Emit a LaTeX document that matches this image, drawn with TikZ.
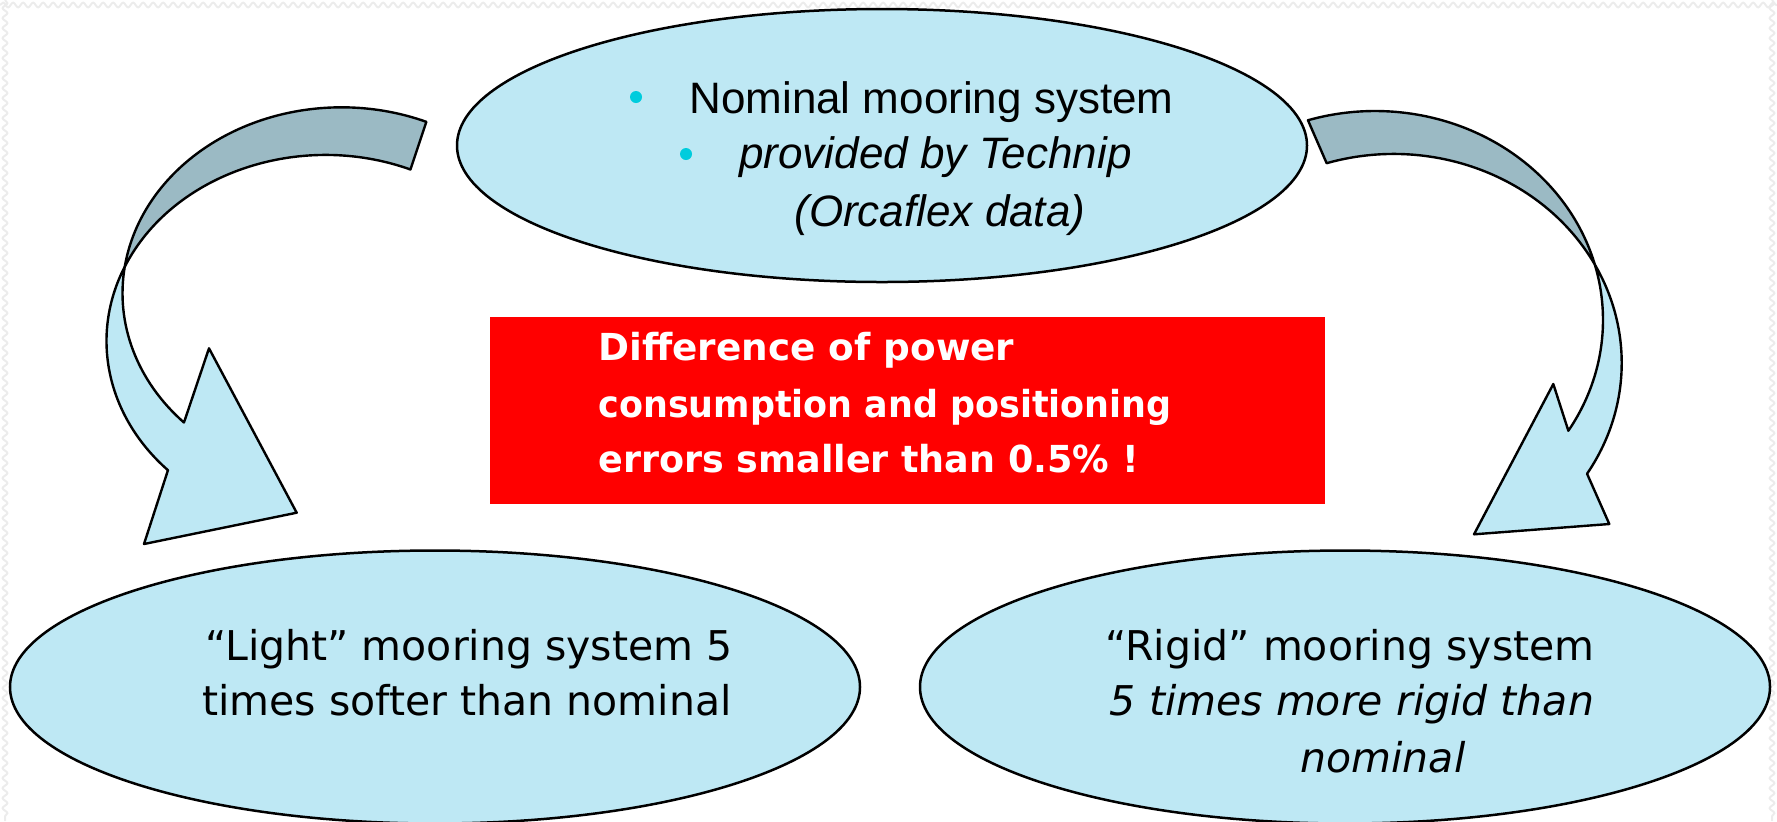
\documentclass[tikz,border=0pt]{standalone}
\usepackage{fontspec}
\usepackage{graphicx}
\setmainfont{Liberation Sans}
\newfontfamily\tah{DejaVu Sans}
\newfontfamily\boxfont[FakeStretch=0.93]{DejaVu Sans}
\usetikzlibrary{shapes.geometric,decorations.pathmorphing,calc}
\definecolor{lightfill}{RGB}{190,232,244}
\definecolor{darkband}{RGB}{155,186,196}
\definecolor{bulletcol}{RGB}{0,204,221}
\definecolor{boxred}{RGB}{255,0,0}
\definecolor{wavecol}{RGB}{236,236,236}
\begin{document}
\begin{tikzpicture}[x=0.5pt,y=-0.5pt,
  bubble/.style={ellipse, draw=black, line width=1.25pt, fill=lightfill, minimum width=425pt, minimum height=136.5pt, inner sep=0pt},
  front/.style={draw=black, line width=1.2pt, fill=lightfill, line join=round},
  back/.style={draw=black, line width=1.2pt, fill=darkband, line join=round},
  lrad/.style={x radius=219, y radius=186},
  rrad/.style={x radius=228, y radius=209},
  nomtext/.style={font=\fontsize{22}{26}\selectfont, inner sep=0pt, anchor=base west},
  softtext/.style={font=\tah\fontsize{20.5}{24}\selectfont, inner sep=0pt, anchor=base},
  boxtext/.style={font=\boxfont\bfseries\fontsize{18.6}{22}\selectfont, text=white, inner sep=0pt, anchor=base west},
  dot/.style={fill=bulletcol},
  border/.style={draw=wavecol, line width=1pt, decorate, decoration={snake, amplitude=1.2pt, segment length=5pt}}
]
\useasboundingbox (0,0) rectangle (1777,821);
% faint slide border
\draw[border] (0,5) -- (1777,5);
\draw[border] (5,0) -- (5,821);
\draw[border] (1772,0) -- (1772,821);

% ellipses
\node[bubble] (nominal) at (882,145.5) {};
\node[bubble] (light) at (435,687) {};
\node[bubble] (rigid) at (1345,687) {};

% red box
\node[fill=boxred, minimum width=417.5pt, minimum height=93.5pt, inner sep=0pt] (diff) at (907.5,410.5) {};

% ellipse centres of the two edges of each curved arrow
\coordinate (LA) at (341.5,293.3);
\coordinate (LB) at (325.5,341);
\coordinate (RA) at (1375,320);
\coordinate (RB) at (1393.7,363);

% left curved arrow
\filldraw[back] ($(LA)+(292.8:219 and 186)$) arc[start angle=292.8, end angle=188.2, lrad]
  arc[start angle=203.5, end angle=292.8, lrad] -- cycle;
\filldraw[front] ($(LB)+(203.5:219 and 186)$) arc[start angle=203.5, end angle=136, lrad]
  -- (144,544) -- (296.7,512.7) -- (209,348.3) -- ($(LA)+(136:219 and 186)$)
  arc[start angle=136, end angle=188.2, lrad] -- cycle;

% right curved arrow
\filldraw[back] ($(RA)+(252.9:228 and 209)$) arc[start angle=252.9, end angle=344.6, rrad]
  arc[start angle=331.9, end angle=252.9, rrad] -- cycle;
\filldraw[front] ($(RB)+(-28.1:228 and 209)$) arc[start angle=-28.1, end angle=32, rrad]
  -- (1609.3,524) -- (1474,534.3) -- (1553.3,384) -- ($(RA)+(32:228 and 209)$)
  arc[start angle=32, end angle=-15.4, rrad] -- cycle;

% top ellipse text
\fill[dot] (636,97) circle[radius=6];
\fill[dot] (686,154) circle[radius=6];
\node[nomtext] (nom1) at (689,113) {Nominal mooring system};
\node[nomtext, font=\fontsize{22}{26}\selectfont\itshape] (nom2) at (739,168) {provided by Technip};
\node[nomtext, font=\fontsize{22}{26}\selectfont\itshape] (nom3) at (794,226) {(Orcaflex data)};

% red box text
\node[boxtext] (diff1) at (598,360) {\scalebox{1.08}[1]{Difference of power}};
\node[boxtext] (diff2) at (598,417) {\scalebox{1.01}[1]{consumption and positioning}};
\node[boxtext] (diff3) at (598,472) {\scalebox{1.055}[1]{errors smaller than 0.5\% !}};

% bottom-left text
\node[softtext] (light1) at (469,660) {“Light” mooring system 5};
\node[softtext] (light2) at (467,715) {times softer than nominal};

% bottom-right text
\node[softtext] (rigid1) at (1350,660) {“Rigid” mooring system};
\node[softtext, font=\tah\itshape\fontsize{20.5}{24}\selectfont] (rigid2) at (1352,715) {5 times more rigid than};
\node[softtext, font=\tah\itshape\fontsize{20.5}{24}\selectfont] (rigid3) at (1383,772) {nominal};
\end{tikzpicture}
\end{document}
